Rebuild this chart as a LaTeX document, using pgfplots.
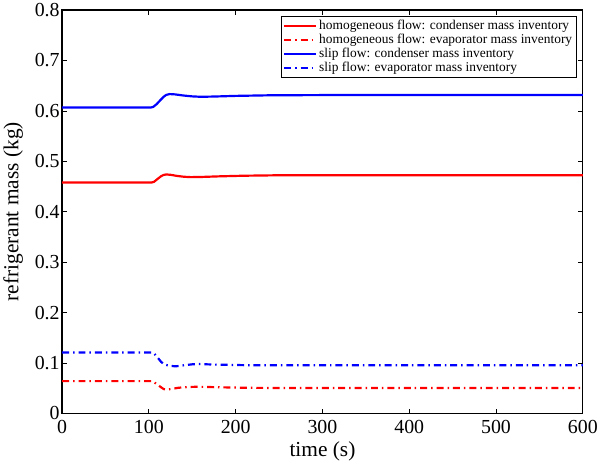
\documentclass[border=0pt]{standalone}
\usepackage{pgfplots}
\pgfplotsset{compat=1.18}
\usepackage{fontspec}
\setmainfont{Liberation Serif}
\begin{document}
\begin{tikzpicture}
\begin{axis}[
  width=524pt, height=406pt,
  scale only axis,
  xmin=0, xmax=600, ymin=0, ymax=0.8,
  xtick={0,100,...,600},
  ytick={0,0.1,...,0.8},
  xticklabel={\pgfmathprintnumber[assume math mode=true]{\tick}},
  yticklabel={\pgfmathprintnumber[assume math mode=true,fixed]{\tick}},
  tick label style={font=\rmfamily\fontsize{20}{24}\selectfont},
  label style={font=\rmfamily\fontsize{21.5}{25}\selectfont},
  xlabel={time (s)},
  ylabel={refrigerant mass (kg)},
  xlabel style={yshift=-1pt},
  ylabel style={yshift=5pt},
  xticklabel style={yshift=-3pt},
  yticklabel style={xshift=1pt},
  tick align=inside,
  major tick length=5pt,
  axis line style={line width=1.3pt},
  every tick/.style={black, line width=0.8pt},
  legend style={at={(rel axis cs:0.988,0.985)}, anchor=north east,
    font=\fontsize{13.5}{16}\selectfont, draw=black, line width=0.8pt,
    row sep=-1pt, inner sep=2pt},
  legend cell align=left,
  legend image code/.code={\draw[#1] (0pt,0pt) -- (32pt,0pt);},
]
\addplot[red, line width=2.2pt] coordinates {
(0,0.458)(103,0.458)(106,0.4595)(110,0.465)(114,0.4705)(117,0.473)(120,0.474)
(125,0.4733)(132,0.4712)(140,0.4695)(148,0.4687)(160,0.469)(180,0.4702)
(210,0.4715)(250,0.4724)(300,0.4726)(600,0.4726)};
\addlegendentry{homogeneous flow: condenser mass inventory}
\addplot[red, line width=2.2pt, dash pattern=on 7pt off 4pt on 1.5pt off 4pt] coordinates {
(0,0.0641)(103,0.0641)(106,0.062)(110,0.057)(114,0.052)(117,0.0485)(120,0.0476)
(126,0.0485)(134,0.051)(145,0.0525)(156,0.053)(175,0.0522)(210,0.051)
(260,0.0504)(600,0.0504)};
\addlegendentry{homogeneous flow: evaporator mass inventory}
\addplot[blue, line width=2.2pt] coordinates {
(0,0.6066)(102,0.6066)(105,0.608)(109,0.6135)(113,0.621)(117,0.628)(120,0.6318)
(124,0.6334)(130,0.6328)(140,0.6305)(150,0.6288)(160,0.628)(175,0.6285)
(200,0.6298)(240,0.631)(300,0.6314)(600,0.6314)};
\addlegendentry{slip flow: condenser mass inventory}
\addplot[blue, line width=2.2pt, dash pattern=on 7pt off 4pt on 1.5pt off 4pt] coordinates {
(0,0.121)(103,0.121)(106,0.119)(110,0.111)(114,0.1025)(118,0.097)(124,0.0945)
(131,0.0935)(140,0.0955)(150,0.0975)(158,0.098)(175,0.097)(210,0.0958)
(260,0.0955)(600,0.0955)};
\addlegendentry{slip flow: evaporator mass inventory}
\end{axis}
\end{tikzpicture}
\end{document}
